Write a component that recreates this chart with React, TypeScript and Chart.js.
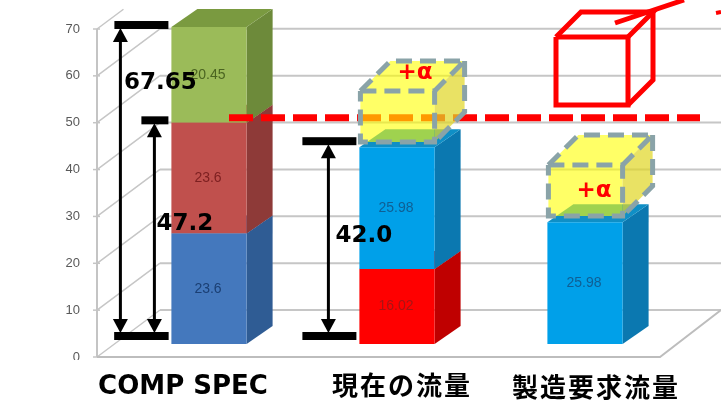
import { useEffect, useRef } from "react";
import { Chart, registerables } from "chart.js";

Chart.register(...registerables);

// Stack contents per category
const categories = ["COMP SPEC", "現在の流量", "製造要求流量"];
const lowerValues = [23.6, 16.02, 25.98];
const middleValues = [23.6, 25.98, null];
const upperValues = [20.45, null, null];
const axisTicks = [0, 10, 20, 30, 40, 50, 60, 70];

// Dimension arrows and the "+α" allowance blocks, in axis units
const dimensionValues = [67.65, 47.2, 42.0];
const dimensionBars = [0, 0, 1];
const dimensionLabels = ["67.65", "47.2", "42.0"];
const allowanceBase = [null, 43.1, 27.3];
const allowanceHeight = 10.9;
const specLevel = 48.3;

const PER_UNIT = 328 / 70;
const FLOOR_LIFT = 13;
const BAR_DEPTH = { x: 26, y: -18 };
const WALL_DEPTH = { x: 63, y: -47 };

const faceColors = [
  { front: ["#4478bd", "#ff0000", "#00a0e9"], side: ["#2f5c94", "#bf0000", "#0b78b0"], top: ["#3a6aa6", "#d80000", "#0f8fc6"], text: ["#1b3f73", "#a81414", "#0f5f94"] },
  { front: ["#c0504d", "#00a0e9", "#00a0e9"], side: ["#8e3a38", "#0b78b0", "#0b78b0"], top: ["#a64543", "#0f8fc6", "#0f8fc6"], text: ["#7c1f20", "#0f5f94", "#0f5f94"] },
  { front: ["#9bbb59", "#9bbb59", "#9bbb59"], side: ["#6d8a3a", "#6d8a3a", "#6d8a3a"], top: ["#7a9a40", "#7a9a40", "#7a9a40"], text: ["#4a6420", "#4a6420", "#4a6420"] },
];

type Pt = [number, number];

function polygon(ctx: CanvasRenderingContext2D, pts: Pt[], fill: string) {
  ctx.beginPath();
  pts.forEach(([x, y], i) => (i ? ctx.lineTo(x, y) : ctx.moveTo(x, y)));
  ctx.closePath();
  ctx.fillStyle = fill;
  ctx.fill();
}

function stroke(ctx: CanvasRenderingContext2D, pts: Pt[], color: string, width: number, dash: number[] = []) {
  ctx.save();
  ctx.beginPath();
  pts.forEach(([x, y], i) => (i ? ctx.lineTo(x, y) : ctx.moveTo(x, y)));
  ctx.strokeStyle = color;
  ctx.lineWidth = width;
  ctx.setLineDash(dash);
  ctx.stroke();
  ctx.restore();
}

function centerText(ctx: CanvasRenderingContext2D, text: string, x: number, y: number, font: string, color: string, spacing = "0px") {
  ctx.save();
  ctx.font = font;
  ctx.fillStyle = color;
  ctx.textAlign = "center";
  ctx.textBaseline = "middle";
  (ctx as any).letterSpacing = spacing;
  ctx.fillText(text, x, y);
  ctx.restore();
}

function barBox(chart: Chart, dataset: number, index: number) {
  const el: any = chart.getDatasetMeta(dataset).data[index];
  return { left: el.x - el.width / 2, right: el.x + el.width / 2, top: el.y, bottom: el.base, cx: el.x };
}

// Back wall, floor and the side and top faces of the boxes
const depthPlugin = {
  id: "depth",
  beforeDatasetsDraw(chart: Chart) {
    const { ctx } = chart;
    const y = chart.scales.y;
    const axisX = 97;
    const wallX = axisX + WALL_DEPTH.x;
    const floorY = y.getPixelForValue(0);

    axisTicks.forEach((t) => {
      const py = y.getPixelForValue(t);
      const reach = t === 70 ? 0.42 : 1;
      stroke(ctx, [[axisX, py], [axisX + WALL_DEPTH.x * reach, py + WALL_DEPTH.y * reach]], "#c6c6c6", 1.5);
      if (t < 70) stroke(ctx, [[wallX, py + WALL_DEPTH.y], [721, py + WALL_DEPTH.y]], "#c6c6c6", 2);
      stroke(ctx, [[axisX - 4, py], [axisX + 3, py]], "#c4c4c4", 1.5);
    });
    stroke(ctx, [[axisX, y.getPixelForValue(70)], [axisX, floorY]], "#c4c4c4", 2);
    stroke(ctx, [[axisX, floorY], [660, floorY], [721, floorY + WALL_DEPTH.y]], "#bdbdbd", 2);

    chart.data.datasets.forEach((ds, d) => {
      ds.data.forEach((v, i) => {
        if (v == null) return;
        const b = barBox(chart, d, i);
        const { x: dx, y: dy } = BAR_DEPTH;
        polygon(ctx, [[b.right, b.top], [b.right + dx, b.top + dy], [b.right + dx, b.bottom + dy], [b.right, b.bottom]], faceColors[d].side[i]);
        polygon(ctx, [[b.left, b.top], [b.left + dx, b.top + dy], [b.right + dx, b.top + dy], [b.right, b.top]], faceColors[d].top[i]);
      });
    });
  },
  afterDatasetsDraw(chart: Chart) {
    const { ctx } = chart;
    const yBars = chart.scales.yBars;

    // Segment values on the front faces
    chart.data.datasets.forEach((ds, d) => {
      ds.data.forEach((v, i) => {
        if (v == null) return;
        const b = barBox(chart, d, i);
        centerText(ctx, String(v), b.cx - 1, (b.top + b.bottom) / 2, "14px 'Liberation Sans'", faceColors[d].text[i]);
      });
    });

    // Required flow level
    const specY = yBars.getPixelForValue(specLevel);
    stroke(ctx, [[229, specY], [700, specY]], "#ff0000", 7, [24, 8]);

    // Translucent allowance blocks with dashed outlines
    allowanceBase.forEach((base, i) => {
      if (base == null) return;
      const bar = barBox(chart, 0, i);
      const l = bar.left + 1;
      const r = bar.right;
      const bot = yBars.getPixelForValue(base);
      const top = yBars.getPixelForValue(base + allowanceHeight);
      const o = 30;
      polygon(ctx, [[l, bot], [l, top], [r, top], [r, bot]], "rgba(255,255,0,0.6)");
      polygon(ctx, [[l, top], [l + o, top - o], [r + o, top - o], [r, top]], "rgba(255,255,0,0.6)");
      polygon(ctx, [[r, top], [r + o, top - o], [r + o, bot - o], [r, bot]], "rgba(225,215,40,0.72)");
      const dash = [16, 8];
      const grey = "#8aa3a8";
      stroke(ctx, [[l, top], [r, top], [r, bot], [l, bot], [l, top]], grey, 5, dash);
      stroke(ctx, [[l, top], [l + o, top - o], [r + o, top - o], [r, top]], grey, 5, dash);
      stroke(ctx, [[r + o, top - o], [r + o, bot - o], [r, bot]], grey, 5, dash);
    });
    const plusFont = "bold 23px 'DejaVu Sans'";
    centerText(ctx, "+α", 415, 73, plusFont, "#ff0000");
    centerText(ctx, "+α", 594, 191, plusFont, "#ff0000");

    // Wireframe box with its leader running off the corner
    const red = "#ff0000";
    stroke(ctx, [[556, 37], [628, 37], [628, 105], [556, 105], [556, 37]], red, 5);
    stroke(ctx, [[556, 37], [581, 12], [653, 12], [628, 37]], red, 5);
    stroke(ctx, [[653, 12], [653, 80], [628, 105]], red, 5);
    stroke(ctx, [[615, 23], [684, 0]], red, 5);
    stroke(ctx, [[716, 13], [721, 12]], red, 4);

    // Dimension arrows
    const arrowX = [-51, -17, -31];
    const capLeft = [-57, -30, -57];
    const capLift = [-2, -2.5, -6];
    const textAt: Pt[] = [[-11, 83], [13.5, 224], [4.5, 236]];
    dimensionValues.forEach((value, i) => {
      const bar = barBox(chart, 0, dimensionBars[i]);
      const capTop = yBars.getPixelForValue(value) + capLift[i];
      const capBottom = yBars.getPixelForValue(0) - 8;
      const x = bar.left + arrowX[i];
      ctx.fillStyle = "#000";
      ctx.fillRect(bar.left + capLeft[i], capTop - 4, bar.left - 3 - (bar.left + capLeft[i]), 8);
      ctx.fillRect(bar.left - 57, capBottom - 4, 54, 8);
      stroke(ctx, [[x, capTop + 8], [x, capBottom - 8]], "#000", 3);
      polygon(ctx, [[x, capTop + 3], [x - 7.5, capTop + 17], [x + 7.5, capTop + 17]], "#000");
      polygon(ctx, [[x, capBottom - 3], [x - 7.5, capBottom - 17], [x + 7.5, capBottom - 17]], "#000");
      centerText(ctx, dimensionLabels[i], bar.left + textAt[i][0], textAt[i][1], "bold 23px 'DejaVu Sans'", "#000");
    });

    // Category captions below the floor
    ctx.fillStyle = "#fff";
    ctx.fillRect(60, 360, 661, 10);
    const captionShift = [-26, 5, 11];
    const captionY = [387, 385, 387];
    categories.forEach((label, i) => {
      const b = barBox(chart, 0, i);
      const latin = i === 0;
      centerText(ctx, label, b.cx + captionShift[i], captionY[i], latin ? "bold 26px 'DejaVu Sans'" : "bold 26px 'Noto Sans CJK JP'", "#000", latin ? "0px" : "2px");
    });
  },
};

export default function App() {
  const ref = useRef<HTMLCanvasElement>(null);

  useEffect(() => {
    if (!ref.current) return;
    const frontColors = (d: number) => faceColors[d].front;
    const chart = new Chart(ref.current, {
      type: "bar",
      data: {
        labels: categories,
        datasets: [lowerValues, middleValues, upperValues].map((data, d) => ({
          data,
          backgroundColor: frontColors(d),
          yAxisID: "yBars",
          clip: false,
          categoryPercentage: 0.4,
          barPercentage: 1,
        })) as any,
      },
      plugins: [depthPlugin],
      options: {
        responsive: false,
        animation: false,
        devicePixelRatio: 1,
        layout: { padding: { top: 29, bottom: 43, right: 42, left: 0 } },
        plugins: { legend: { display: false }, tooltip: { enabled: false } },
        scales: {
          x: { stacked: true, display: false },
          y: {
            min: 0,
            max: 70,
            position: "left",
            grid: { display: false, drawTicks: false },
            border: { display: false },
            afterFit: (axis: any) => {
              // The wide tick gap must not eat into the plot height
              axis.width = 115;
              axis.paddingTop = 0;
              axis.paddingBottom = 0;
            },
            ticks: {
              stepSize: 10,
              padding: 35,
              color: "#595959",
              font: { family: "'Liberation Sans'", size: 13 },
            },
          },
          yBars: {
            display: false,
            stacked: true,
            min: -FLOOR_LIFT / PER_UNIT,
            max: 70 - FLOOR_LIFT / PER_UNIT,
          },
        },
      },
    } as any);
    return () => chart.destroy();
  }, []);

  return (
    <div style={{ position: "fixed", left: 0, top: 0, width: 721, height: 400, background: "#fff" }}>
      <canvas ref={ref} width={721} height={400} style={{ display: "block" }} />
    </div>
  );
}
